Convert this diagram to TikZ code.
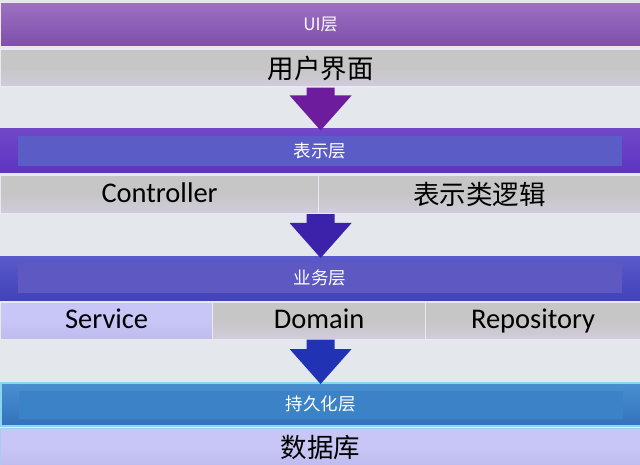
\documentclass[tikz,border=0pt]{standalone}
\usepackage{fontspec}
\setmainfont{Carlito}
\newfontfamily\cjk{Noto Sans CJK SC}
\usetikzlibrary{calc}
\definecolor{bgc}{HTML}{E4E8EC}
\definecolor{uitop}{HTML}{9C70C2}
\definecolor{uibot}{HTML}{7E4EAA}
\definecolor{prtop}{HTML}{7048C8}
\definecolor{prbot}{HTML}{5E34C0}
\definecolor{prin}{HTML}{5C5CC6}
\definecolor{bztop}{HTML}{5A5ACA}
\definecolor{bzbot}{HTML}{4242BA}
\definecolor{bzin}{HTML}{5E58C2}
\definecolor{pstop}{HTML}{4A90D0}
\definecolor{psbot}{HTML}{3472BC}
\definecolor{psin}{HTML}{3C82C6}
\definecolor{psedge}{HTML}{8CD4F0}
\definecolor{greyc}{HTML}{C6C6C6}
\definecolor{greyb}{HTML}{D2CCDC}
\definecolor{lavc}{HTML}{C8C6F6}
\definecolor{lavb}{HTML}{BEBCEE}
\definecolor{edgec}{HTML}{ECE8F2}
\definecolor{arrA}{HTML}{6C1C9C}
\definecolor{arrB}{HTML}{3C22AA}
\definecolor{arrC}{HTML}{2232B4}
\tikzset{
  bar/.style={rectangle, inner sep=0pt, minimum width=640pt, minimum height=44pt, anchor=north west},
  inband/.style={rectangle, inner sep=0pt, minimum width=604pt, minimum height=30pt},
  barlabel/.style={text=white, font=\cjk\fontsize{17.5}{20}\selectfont},
  cell/.style={rectangle, inner sep=0pt, minimum height=38pt, anchor=north west, draw=edgec, line width=1.2pt, text=black},
  greycell/.style={cell, top color=greyc, bottom color=greyb, middle color=greyc},
  lavcell/.style={cell, top color=lavc, bottom color=lavb, middle color=lavc},
  latin/.style={font=\fontsize{28.5}{30}\selectfont, text height=20pt, text depth=5pt},
  hanzi/.style={font=\cjk\fontsize{26.5}{28}\selectfont},
}
\newcommand\layerarrow[3]{%
  \fill[#3] let \p1=(#1), \p2=(#2) in
    (\x1-14pt,\y1) -- (\x1+14pt,\y1) -- (\x1+14pt,\y2+33pt) -- (\x1+31pt,\y2+33pt)
    -- (\x1,\y2-2pt) -- (\x1-31pt,\y2+33pt) -- (\x1-14pt,\y2+33pt) -- cycle;}
\begin{document}
\begin{tikzpicture}[x=1pt,y=-1pt]
\fill[bgc] (0,0) rectangle (640,465);
\useasboundingbox (0,0) rectangle (640,465);
% UI layer
\node[bar, top color=uitop, bottom color=uibot, draw=edgec, line width=0.8pt, minimum height=44pt] (ui) at (0,2.5) {};
\node[barlabel, font=\cjk\fontsize{17}{20}\selectfont] (uit) at (ui.center) {UI层};
\node[greycell, minimum width=640pt, hanzi] (uirow) at (0,48.5) {用户界面};
% presentation layer
\node[bar, top color=prtop, bottom color=prbot] (pr) at (0,128.5) {};
\node[inband, fill=prin] (prband) at (pr.center) {};
\node[barlabel] (prt) at (pr.center) {表示层};
\node[greycell, minimum width=318pt, latin] (ctrl) at (0,175) {Controller};
\node[greycell, minimum width=322pt, hanzi] (plog) at (318,175) {表示类逻辑};
% business layer
\node[bar, top color=bztop, bottom color=bzbot] (bz) at (0,256) {};
\node[inband, fill=bzin] (bzband) at (bz.center) {};
\node[barlabel] (bzt) at (bz.center) {业务层};
\node[lavcell, minimum width=212pt, minimum height=37pt, latin] (svc) at (0,301.5) {Service};
\node[greycell, minimum width=213pt, minimum height=37pt, latin] (dom) at (212,301.5) {Domain};
\node[greycell, minimum width=215pt, minimum height=37pt, latin] (repo) at (425,301.5) {Repository};
% persistence layer
\node[bar, top color=pstop, bottom color=psbot, draw=psedge, line width=1.5pt, minimum height=43pt] (ps) at (0,382) {};
\node[inband, fill=psin, minimum height=28pt] (psband) at ($(ps.center)+(0,1)$) {};
\node[barlabel] (pst) at (ps.center) {持久化层};
\node[lavcell, minimum width=640pt, minimum height=38pt, hanzi, draw=psedge!60!lavc] (db) at (0,427.5) {数据库};
% arrows
\coordinate (a1s) at (uirow.south);
\coordinate (a2s) at (uirow.south |- plog.south);
\coordinate (a3s) at (uirow.south |- dom.south);
\layerarrow{a1s}{pr.north}{arrA}
\layerarrow{a2s}{bz.north}{arrB}
\layerarrow{a3s}{ps.north}{arrC}
\end{tikzpicture}
\end{document}
